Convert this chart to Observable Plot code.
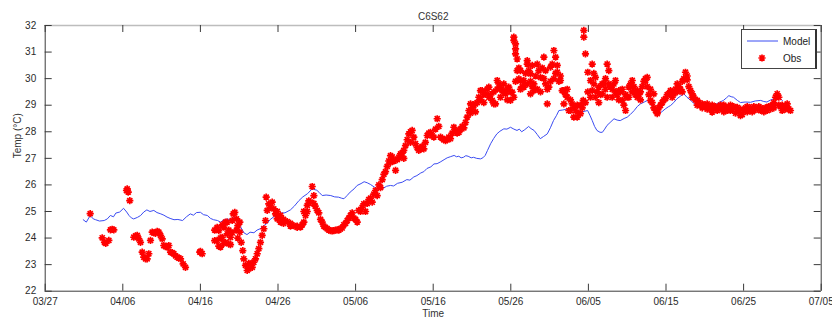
<!DOCTYPE html>
<html><head><meta charset="utf-8">
<script src="https://cdn.jsdelivr.net/npm/d3@7"></script>
<script src="https://cdn.jsdelivr.net/npm/@observablehq/plot@0.6"></script>
<style>
body{margin:0;background:#fff;}
#wrap{position:relative;width:832px;height:322px;}
#legend{position:absolute;left:741px;top:29px;width:76px;height:40px;border:1px solid #444;border-right:2px solid #333;background:#fff;box-sizing:border-box;}
#legend svg{display:block;}
</style></head><body><div id="wrap"><div id="legend"></div></div>
<script>
// ---- data ----
const title = "C6S62";
const yLabel = "Temp (°C)";
const xLabel = "Time";
const seriesNames = ["Model", "Obs"];
const startYear = 2010;           // year is not shown; any non-leap year
const startDay = "03/27";         // day offsets below are counted from this date
const xTickLabels = ["03/27","04/06","04/16","04/26","05/06","05/16","05/26","06/05","06/15","06/25","07/05"];
const yTicks = [22,23,24,25,26,27,28,29,30,31,32];

// Model: [days since 03/27, temperature]
const modelSeries = [[4.9,24.69],[5.3,24.6],[5.8,24.85],[6.2,24.72],[6.5,24.69],[7.0,24.64],[7.6,24.66],[8.0,24.72],[8.4,24.85],[8.8,24.8],[9.1,24.94],[9.6,24.98],[10.1,25.12],[10.5,24.98],[10.8,24.85],[11.1,24.76],[11.4,24.72],[11.9,24.78],[12.3,24.85],[12.7,24.98],[13.1,25.06],[13.5,25.0],[14.0,25.04],[14.4,24.96],[14.9,24.91],[15.3,24.86],[15.7,24.79],[16.1,24.74],[16.6,24.69],[17.1,24.7],[17.7,24.66],[18.2,24.8],[18.7,24.91],[19.1,24.86],[19.5,24.96],[20.0,24.97],[20.4,24.88],[20.9,24.85],[21.3,24.74],[21.7,24.69],[22.2,24.66],[22.6,24.6],[23.0,24.68],[23.5,24.72],[23.9,24.68],[24.3,24.79],[24.7,24.62],[25.2,24.41],[25.6,24.2],[26.0,24.13],[26.4,24.22],[26.9,24.2],[27.3,24.3],[27.7,24.35],[28.1,24.45],[28.6,24.56],[29.0,24.7],[29.5,24.81],[29.9,24.86],[30.3,24.94],[30.9,24.95],[31.6,25.06],[32.1,25.2],[32.7,25.41],[33.2,25.55],[33.8,25.67],[34.4,25.85],[35.0,25.8],[35.3,25.72],[35.7,25.6],[36.2,25.62],[36.8,25.6],[37.3,25.55],[37.8,25.54],[38.2,25.5],[38.5,25.48],[38.9,25.6],[39.3,25.73],[39.8,25.85],[40.2,25.98],[40.7,26.05],[41.1,26.12],[41.5,26.08],[41.9,26.02],[42.4,25.92],[42.8,25.85],[43.2,25.9],[43.6,25.88],[44.0,25.95],[44.5,25.98],[44.9,25.96],[45.4,26.06],[46.0,26.1],[46.6,26.2],[47.0,26.18],[47.5,26.3],[47.9,26.35],[48.4,26.45],[48.8,26.5],[49.2,26.62],[49.7,26.68],[50.1,26.79],[50.5,26.8],[50.9,26.86],[51.4,26.95],[51.8,27.02],[52.2,27.06],[52.7,27.11],[53.0,27.06],[53.3,27.08],[53.6,27.02],[53.9,27.04],[54.2,27.1],[54.5,27.08],[54.9,27.02],[55.2,27.04],[55.6,27.0],[56.1,26.98],[56.4,27.02],[56.7,27.11],[57.0,27.3],[57.4,27.55],[57.8,27.75],[58.2,27.92],[58.6,28.02],[59.1,28.11],[59.5,28.1],[59.96,28.17],[60.4,28.1],[60.8,28.05],[61.1,28.1],[61.4,28.0],[61.8,28.08],[62.3,28.2],[62.6,28.12],[63.0,28.05],[63.4,27.9],[63.8,27.74],[64.2,27.82],[64.7,27.92],[65.1,28.15],[65.5,28.42],[65.9,28.62],[66.2,28.8],[66.7,28.82],[67.3,28.86],[67.9,28.8],[68.6,28.8],[69.2,28.75],[69.9,28.8],[70.2,28.62],[70.5,28.42],[70.8,28.2],[71.1,28.05],[71.5,27.98],[71.8,27.98],[72.1,28.1],[72.4,28.24],[72.8,28.35],[73.3,28.49],[73.7,28.44],[74.1,28.42],[74.6,28.5],[75.0,28.55],[75.4,28.65],[75.9,28.8],[76.3,28.95],[76.7,29.05],[77.2,29.12],[77.6,29.18],[78.0,29.05],[78.4,28.95],[78.8,28.78],[79.1,28.68],[79.5,28.76],[79.9,28.86],[80.3,28.94],[80.6,28.99],[81.0,29.1],[81.4,29.24],[81.9,29.35],[82.3,29.43],[82.7,29.3],[83.2,29.18],[83.6,29.06],[84.0,28.99],[84.4,28.95],[84.9,28.92],[85.5,28.96],[86.2,28.99],[86.8,29.1],[87.4,29.18],[87.8,29.28],[88.1,29.36],[88.4,29.32],[88.7,29.3],[89.2,29.18],[89.6,29.1],[90.2,29.12],[90.9,29.11],[91.5,29.16],[92.2,29.18],[92.6,29.14],[93.0,29.12],[93.5,29.2],[93.9,29.24],[94.2,29.28],[94.5,29.3],[95.0,29.18]];

// Obs: [days since 03/27, temperature]
const obsSeries = [[5.8,24.92],[7.35,24.01],[7.64,23.84],[7.8,23.8],[8.2,23.91],[8.41,24.31],[8.63,24.33],[8.84,24.31],[10.48,25.79],[10.57,25.85],[10.7,25.73],[10.9,25.41],[11.42,24.03],[11.64,24.08],[11.86,24.1],[12.06,23.97],[12.28,23.84],[12.5,23.47],[12.7,23.28],[12.93,23.22],[13.14,23.22],[13.35,23.41],[13.57,23.91],[13.79,24.22],[14.0,24.2],[14.21,24.18],[14.43,24.25],[14.64,24.22],[14.86,24.1],[15.08,23.97],[15.28,23.72],[15.5,23.68],[15.72,23.66],[15.93,23.72],[16.15,23.47],[16.36,23.45],[16.57,23.41],[16.8,23.33],[17.01,23.28],[17.22,23.25],[17.44,23.22],[17.78,23.03],[18.08,22.9],[19.92,23.47],[20.01,23.5],[20.23,23.41],
[21.84,23.9],[21.84,24.3],[22.16,23.91],[22.16,24.4],[22.37,24.28],[22.37,23.7],[22.59,23.66],[22.59,24.0],[22.81,24.03],[22.81,24.5],[23.02,24.41],[23.02,23.8],[23.23,23.84],[23.23,24.6],[23.45,24.16],[23.45,24.6],[23.66,23.78],[23.66,24.3],[23.88,24.03],[23.88,23.75],[24.1,24.66],[24.1,24.2],[24.23,24.91],[24.43,24.97],[24.65,24.72],[24.65,24.3],[24.82,24.47],[24.82,24.0],[25.08,24.22],[25.08,24.6],[25.26,23.84],[25.46,23.53],[25.59,23.22],[25.81,22.97],[26.03,22.78],[26.24,22.84],[26.24,23.05],[26.46,23.03],[26.68,22.9],[26.88,23.09],[27.1,23.22],[27.32,23.41],[27.53,23.6],[27.74,23.84],[27.96,24.1],[28.17,24.35],[28.39,24.66],[28.48,25.54],[28.61,25.04],[28.81,25.29],[29.03,25.16],[29.25,25.35],[29.46,25.1],[29.68,24.91],[29.9,24.72],[29.9,25.0],[30.1,24.8],[30.32,24.85],[30.32,24.6],
[30.71,24.7],[30.71,24.55],[31.19,24.62],[31.61,24.55],[31.61,24.45],[32.04,24.47],[32.47,24.45],[32.47,24.4],[32.9,24.41],[33.12,24.5],[33.33,24.6],[33.33,25.0],[33.55,24.85],[33.77,25.23],[33.77,25.0],[33.97,25.4],[34.19,25.35],[34.41,25.94],[34.62,25.3],[34.62,25.6],[34.79,25.2],[35.05,25.04],[35.26,24.95],[35.48,24.7],[35.69,24.6],[35.9,24.45],[36.12,24.4],[36.34,24.35],[36.55,24.3],[36.77,24.28],[36.98,24.27],[37.19,24.28],[37.41,24.3],[37.63,24.31],[37.84,24.3],[38.05,24.35],[38.27,24.38],[38.48,24.5],[38.7,24.55],[38.92,24.66],[39.13,24.75],[39.34,24.85],[39.56,24.95],[39.77,24.75],[39.99,24.7],[40.21,24.6],[40.41,25.04],[40.63,25.0],[40.85,25.15],[41.06,25.29],[41.28,25.0],[41.49,25.3],[41.7,25.45],[41.92,25.5],[42.14,25.35],[42.35,25.65],[42.57,25.79],[42.78,25.6],[43.0,26.0],[43.21,25.9],[43.43,26.2],[43.64,26.4],[43.86,26.5],[44.07,26.7],[44.28,26.9],[44.5,27.1],[44.5,26.85],[44.72,27.05],[44.94,26.9],[45.15,26.55],[45.37,26.95],[45.57,27.04],[45.79,27.17],
[46.0,27.2],[46.21,27.3],[46.21,27.0],[46.43,27.48],[46.65,27.7],[46.86,27.92],[47.07,28.0],[47.07,27.6],[47.29,28.05],[47.5,27.8],[47.72,27.55],[47.93,27.4],[48.14,27.3],[48.36,27.35],[48.57,27.45],[48.79,27.36],[49.0,27.6],[49.23,27.86],[49.44,27.95],[49.65,27.98],[49.87,27.85],[50.08,27.8],[50.3,28.1],[50.52,28.49],[50.72,28.2],[50.94,27.8],[51.16,27.75],[51.37,27.7],[51.59,27.67],[51.8,27.7],[52.01,27.8],[52.23,27.74],[52.45,27.95],[52.66,28.17],[52.88,28.05],[53.09,27.95],[53.31,27.98],[53.52,28.1],[53.74,28.2],[53.95,28.15],[54.17,28.35],[54.38,28.55],[54.6,28.8],[54.81,29.05],[54.81,28.7],[55.03,28.9],[55.23,29.0],[55.45,29.05],[55.45,28.75],[55.67,29.1],[55.88,29.3],[56.09,29.55],[56.09,29.2],[56.31,29.55],[56.52,29.4],[56.52,29.1],[56.74,29.43],[56.96,29.6],[57.17,29.68],[57.17,29.3],[57.38,29.4],[57.6,29.18],[57.81,29.05],[57.81,29.5],[58.03,29.05],[58.25,29.93],[58.25,29.6],[58.46,29.8],[58.67,29.68],[58.67,29.3],[58.89,29.55],[59.1,29.5],[59.1,29.8],[59.32,29.43],[59.54,29.6],[59.54,29.2],[59.74,29.68],[59.96,29.18],[59.96,29.5],[60.17,29.49],[60.39,31.56],[60.39,31.44],[60.39,29.3],[60.61,31.31],[60.61,31.12],[60.61,30.93],[60.61,29.9],[60.82,30.74],[60.82,30.3],[61.04,29.99],[61.04,30.4],[61.25,30.3],[61.25,29.93],[61.25,29.6],[61.47,29.7],[61.68,29.68],[61.68,29.93],[61.9,30.2],[62.12,30.55],[62.12,30.68],[62.12,29.8],[62.32,30.3],[62.54,30.18],[62.54,29.43],[62.54,29.9],
[62.76,29.7],[62.76,30.5],[62.97,29.8],[62.97,29.55],[63.19,30.1],[63.41,30.55],[63.41,29.6],[63.61,30.3],[63.83,30.05],[63.83,29.5],[64.05,30.4],[64.26,30.81],[64.26,30.0],[64.48,29.8],[64.48,30.3],[64.7,29.05],[64.7,29.6],[64.9,29.68],[65.12,30.43],[65.12,29.9],[65.34,30.55],[65.55,31.06],[65.55,30.0],[65.77,30.81],[65.77,30.2],[65.99,30.24],[65.99,30.5],[66.2,29.9],[66.4,29.93],[66.4,30.1],[66.62,29.55],[66.84,29.05],[66.84,29.55],[67.05,29.4],[67.27,29.3],[67.27,29.6],[67.48,28.8],[67.69,28.8],[67.69,29.2],[67.91,29.05],[68.12,28.55],[68.12,28.92],[68.34,28.8],[68.56,28.55],[68.56,29.0],[68.76,28.7],[68.98,28.68],[68.98,29.0],[69.2,28.9],[69.33,29.18],[69.41,31.82],[69.41,31.56],[69.62,30.93],[69.62,29.1],[69.92,30.24],[69.92,29.5],[70.27,29.93],[70.27,29.3],[70.49,29.55],[70.49,30.55],
[70.7,29.8],[70.7,30.2],[70.91,30.05],[70.91,29.3],[71.13,29.5],[71.34,29.68],[71.34,29.1],[71.56,29.4],[71.77,29.43],[71.77,29.8],[71.99,29.8],[72.2,29.6],[72.2,30.0],[72.42,30.55],[72.42,29.3],[72.63,30.3],[72.63,29.8],[72.85,29.7],[73.07,29.6],[73.07,29.3],[73.28,29.8],[73.49,29.93],[73.49,29.5],[73.71,29.4],[73.92,29.55],[73.92,29.2],[74.14,29.5],[74.36,29.18],[74.36,29.6],[74.57,29.0],[74.79,28.8],[74.79,29.4],[75.0,29.3],[75.21,29.68],[75.21,29.3],[75.43,29.8],[75.65,29.93],[75.65,29.5],[75.86,29.7],[76.08,29.4],[76.3,29.55],[76.3,29.3],[76.5,29.4],[76.71,29.2],[76.71,29.5],[76.93,29.7],[77.14,29.9],[77.36,29.93],[77.36,30.0],[77.58,29.7],[77.58,30.05],[77.79,29.4],[78.0,29.18],[78.0,29.6],[78.22,29.1],[78.43,29.43],[78.43,28.9],[78.65,28.8],[78.87,28.68],[78.87,28.74],[79.07,28.9],[79.29,29.0],[79.51,29.1],[79.72,29.2],[79.94,29.25],[80.16,29.4],[80.37,29.43],[80.58,29.55],
[80.8,29.5],[80.8,29.3],[81.01,29.43],[81.23,29.6],[81.44,29.8],[81.44,29.5],[81.65,29.7],[81.87,29.6],[82.09,29.9],[82.09,29.5],[82.3,30.0],[82.51,30.24],[82.73,29.95],[82.73,30.1],[82.94,29.7],[83.16,29.55],[83.38,29.43],[83.38,29.3],[83.58,29.3],[83.8,29.2],[84.02,29.18],[84.02,29.0],[84.23,29.1],[84.45,29.0],[84.67,29.05],[84.67,28.9],[84.88,29.0],[85.1,28.95],[85.31,29.05],[85.31,28.85],[85.52,28.9],[85.73,28.92],[85.95,28.74],[85.95,29.0],[86.16,28.9],[86.38,28.95],[86.6,28.92],[86.6,28.8],[86.81,28.9],[87.02,29.0],[87.24,28.85],[87.45,29.0],[87.45,28.75],[87.66,28.9],[87.88,28.8],[88.09,28.95],[88.31,28.8],[88.31,29.0],[88.53,28.85],[88.74,28.95],[88.96,28.9],[88.96,28.7],[89.18,28.92],[89.39,28.8],[89.6,28.61],[89.6,28.85],[89.82,28.65],[90.03,28.8],[90.25,28.9],[90.47,28.95],[90.47,28.75],[90.67,28.85],[90.89,28.9],[91.11,28.75],[91.32,28.95],[91.32,28.8],[91.53,28.9],[91.75,28.85],[91.96,28.95],[92.18,28.8],[92.18,28.9],[92.4,28.85],[92.61,28.75],[92.83,28.9],[93.04,28.92],[93.04,28.8],[93.25,28.95],[93.47,28.85],[93.69,29.0],[93.9,29.1],[93.9,28.9],[94.11,29.3],[94.33,29.43],[94.54,29.3],[94.54,29.0],[94.75,28.95],[94.97,28.8],[94.97,29.0],[95.18,28.9],[95.4,28.85],[95.62,28.9],[95.62,29.05],[95.82,28.86],[96.04,28.8]];

// ---- build ----
const parseMD = s => { const [m, d] = s.split("/").map(Number); return new Date(Date.UTC(startYear, m - 1, d)); };
const t0 = +parseMD(startDay);
const toDate = d => new Date(t0 + d * 864e5);
const xTicks = xTickLabels.map(parseMD);
const model = modelSeries.map(([d, t]) => ({date: toDate(d), temp: t}));
const obs = obsSeries.map(([d, t]) => ({date: toDate(d), temp: t}));

const star8 = {
  draw(ctx, size) {
    const r = Math.sqrt(size / Math.PI), k = r * Math.SQRT1_2;
    ctx.moveTo(-r, 0); ctx.lineTo(r, 0);
    ctx.moveTo(0, -r); ctx.lineTo(0, r);
    ctx.moveTo(-k, -k); ctx.lineTo(k, k);
    ctx.moveTo(-k, k); ctx.lineTo(k, -k);
  }
};

const W = 832, H = 322, mL = 44.7, mR = 11.3, mT = 25, mB = 31.3;
const fw = W - mL - mR, fh = H - mT - mB, tk = 7;
const axisColor = "#3a3a3a";
const modelColor = "#3b4cf2", obsColor = "#ff0000";
const font = "'Liberation Sans', Arial, Helvetica, sans-serif";
const obsR = 3.6, obsW = 1.7;

const chart = Plot.plot({
  width: W, height: H,
  marginLeft: mL, marginRight: mR, marginTop: mT, marginBottom: mB,
  style: {fontFamily: font, fontSize: "10px", color: "#2a2a2a", background: "#fff", overflow: "visible"},
  x: {type: "utc", domain: [xTicks[0], xTicks[xTicks.length - 1]]},
  y: {domain: [yTicks[0], yTicks[yTicks.length - 1]]},
  marks: [
    Plot.axisX({ticks: xTicks, tickSize: 0, tickPadding: 7, label: null,
      tickFormat: d => xTickLabels[xTicks.findIndex(t => +t === +d)]}),
    Plot.axisY({ticks: yTicks, tickSize: 0, tickPadding: 9, label: null}),
    Plot.line(model, {x: "date", y: "temp", stroke: modelColor, strokeWidth: 1}),
    Plot.dot(obs, {x: "date", y: "temp", symbol: star8, r: obsR, stroke: obsColor, strokeWidth: obsW, fill: "none"}),
    // box
    Plot.ruleY([yTicks[yTicks.length - 1]], {stroke: "#bdbdbd", strokeWidth: 1.5}),
    Plot.ruleY([yTicks[0]], {stroke: axisColor}),
    Plot.ruleX([xTicks[0]], {stroke: axisColor}),
    Plot.ruleX([xTicks[xTicks.length - 1]], {stroke: axisColor}),
    // inward ticks on all four sides
    Plot.tickX(xTicks, {stroke: axisColor, insetTop: fh - tk}),
    Plot.tickX(xTicks, {stroke: axisColor, insetBottom: fh - tk}),
    Plot.tickY(yTicks, {stroke: axisColor, insetRight: fw - tk}),
    Plot.tickY(yTicks, {stroke: axisColor, insetLeft: fw - tk}),
    // title & labels
    Plot.text([title], {text: d => d, frameAnchor: "top", dy: -13, fill: "#333", fontSize: 10}),
    Plot.text([xLabel], {text: d => d, frameAnchor: "bottom", dy: 26, fill: "#333", fontSize: 10}),
    Plot.text([yLabel], {text: d => d, frameAnchor: "left", dx: -27, rotate: -90, fill: "#333", fontSize: 10})
  ]
});
document.getElementById("wrap").prepend(chart);

// legend
const lg = d3.select("#legend").append("svg").attr("width", 74).attr("height", 38)
  .style("font-family", font).style("font-size", "10px");
lg.append("line").attr("x1", 5).attr("x2", 36).attr("y1", 11).attr("y2", 11)
  .attr("stroke", modelColor).attr("stroke-width", 1);
lg.append("path").attr("transform", "translate(20,28)")
  .attr("d", d3.symbol(star8, Math.PI * obsR * obsR)())
  .attr("stroke", obsColor).attr("stroke-width", obsW).attr("fill", "none");
lg.selectAll("text.lbl").data(seriesNames).join("text").attr("class", "lbl")
  .attr("x", 41).attr("y", (d, i) => i === 0 ? 12 : 29)
  .attr("dominant-baseline", "middle").attr("fill", "#222").text(d => d);
</script></body></html>
